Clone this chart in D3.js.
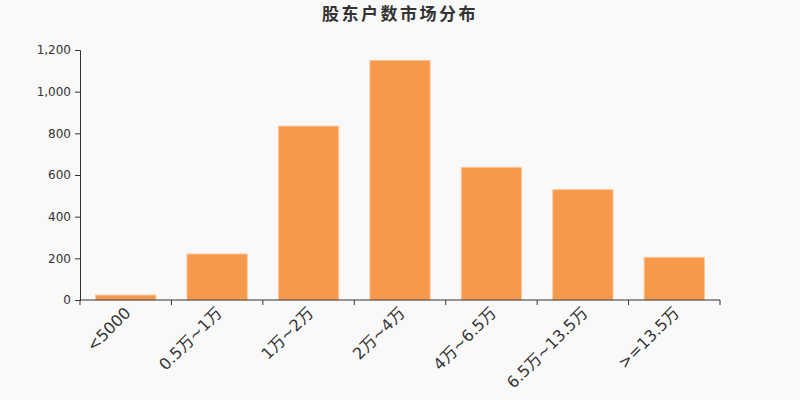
<!DOCTYPE html>
<html>
<head>
<meta charset="utf-8">
<script src="https://cdn.jsdelivr.net/npm/d3@7"></script>
<style>
  body { margin: 0; background: #f9f9f9; }
  svg { display: block; font-family: "DejaVu Sans", "Noto Sans CJK SC", sans-serif; }
</style>
</head>
<body>
<svg id="chart" width="800" height="400"></svg>
<script>
// 股东户数市场分布
var categories = ['<5000', '0.5万~1万', '1万~2万', '2万~4万', '4万~6.5万', '6.5万~13.5万', '>=13.5万'];
var counts = [24, 221, 835, 1150, 637, 530, 205];
var yTicks = [0, 200, 400, 600, 800, 1000, 1200];

var svg = d3.select('#chart');
var padLeft = 80, padRight = 720, padTop = 50, padBottom = 300;

svg.append('rect').attr('width', 800).attr('height', 400).attr('fill', '#f9f9f9');

svg.append('text')
    .attr('x', 400).attr('y', 20)
    .attr('text-anchor', 'middle')
    .attr('font-size', 17).attr('font-weight', 'bold')
    .attr('letter-spacing', 2.5)
    .attr('fill', '#333')
    .text('股东户数市场分布');

var x = d3.scaleBand().domain(categories).range([padLeft, padRight]).paddingInner(0.34).paddingOuter(0.17);
var y = d3.scaleLinear().domain([0, 1200]).range([padBottom, padTop]);

// bars
svg.selectAll('rect.bar')
    .data(counts)
    .enter().append('rect')
    .attr('class', 'bar')
    .attr('x', function(d, i) { return x(categories[i]); })
    .attr('y', function(d) { return y(d); })
    .attr('width', x.bandwidth())
    .attr('height', function(d) { return y(0) - y(d); })
    .attr('fill', '#f7984a')
    .attr('stroke', '#fbc9a0')
    .attr('stroke-width', 1);

// y axis
var yAxis = d3.axisLeft(y).tickValues(yTicks).tickSize(5).tickPadding(4).tickFormat(d3.format(','));
var gy = svg.append('g').attr('transform', 'translate(' + padLeft + ',0)').call(yAxis);
gy.selectAll('path, line').attr('stroke', '#333');
gy.selectAll('text').attr('font-size', 12).attr('fill', '#333').attr('font-family', '"DejaVu Sans", sans-serif');

// x axis: ticks on band boundaries
var gx = svg.append('g').attr('transform', 'translate(0,' + padBottom + ')');
gx.append('line').attr('x1', padLeft).attr('x2', padRight).attr('stroke', '#333');
var step = (padRight - padLeft) / categories.length;
var bounds = d3.range(categories.length + 1).map(function(i) { return padLeft + i * step; });
gx.selectAll('line.tick')
    .data(bounds)
    .enter().append('line')
    .attr('class', 'tick')
    .attr('x1', function(d) { return d; }).attr('x2', function(d) { return d; })
    .attr('y1', 0).attr('y2', 5)
    .attr('stroke', '#333');

gx.selectAll('text')
    .data(categories)
    .enter().append('text')
    .attr('transform', function(d) {
        var cx = x(d) + x.bandwidth() / 2;
        return 'translate(' + (cx + 2) + ',10) rotate(-45)';
    })
    .attr('text-anchor', 'end')
    .attr('dy', '0.35em')
    .attr('font-size', 16)
    .attr('fill', '#333')
    .text(function(d) { return d; });
</script>
</body>
</html>
